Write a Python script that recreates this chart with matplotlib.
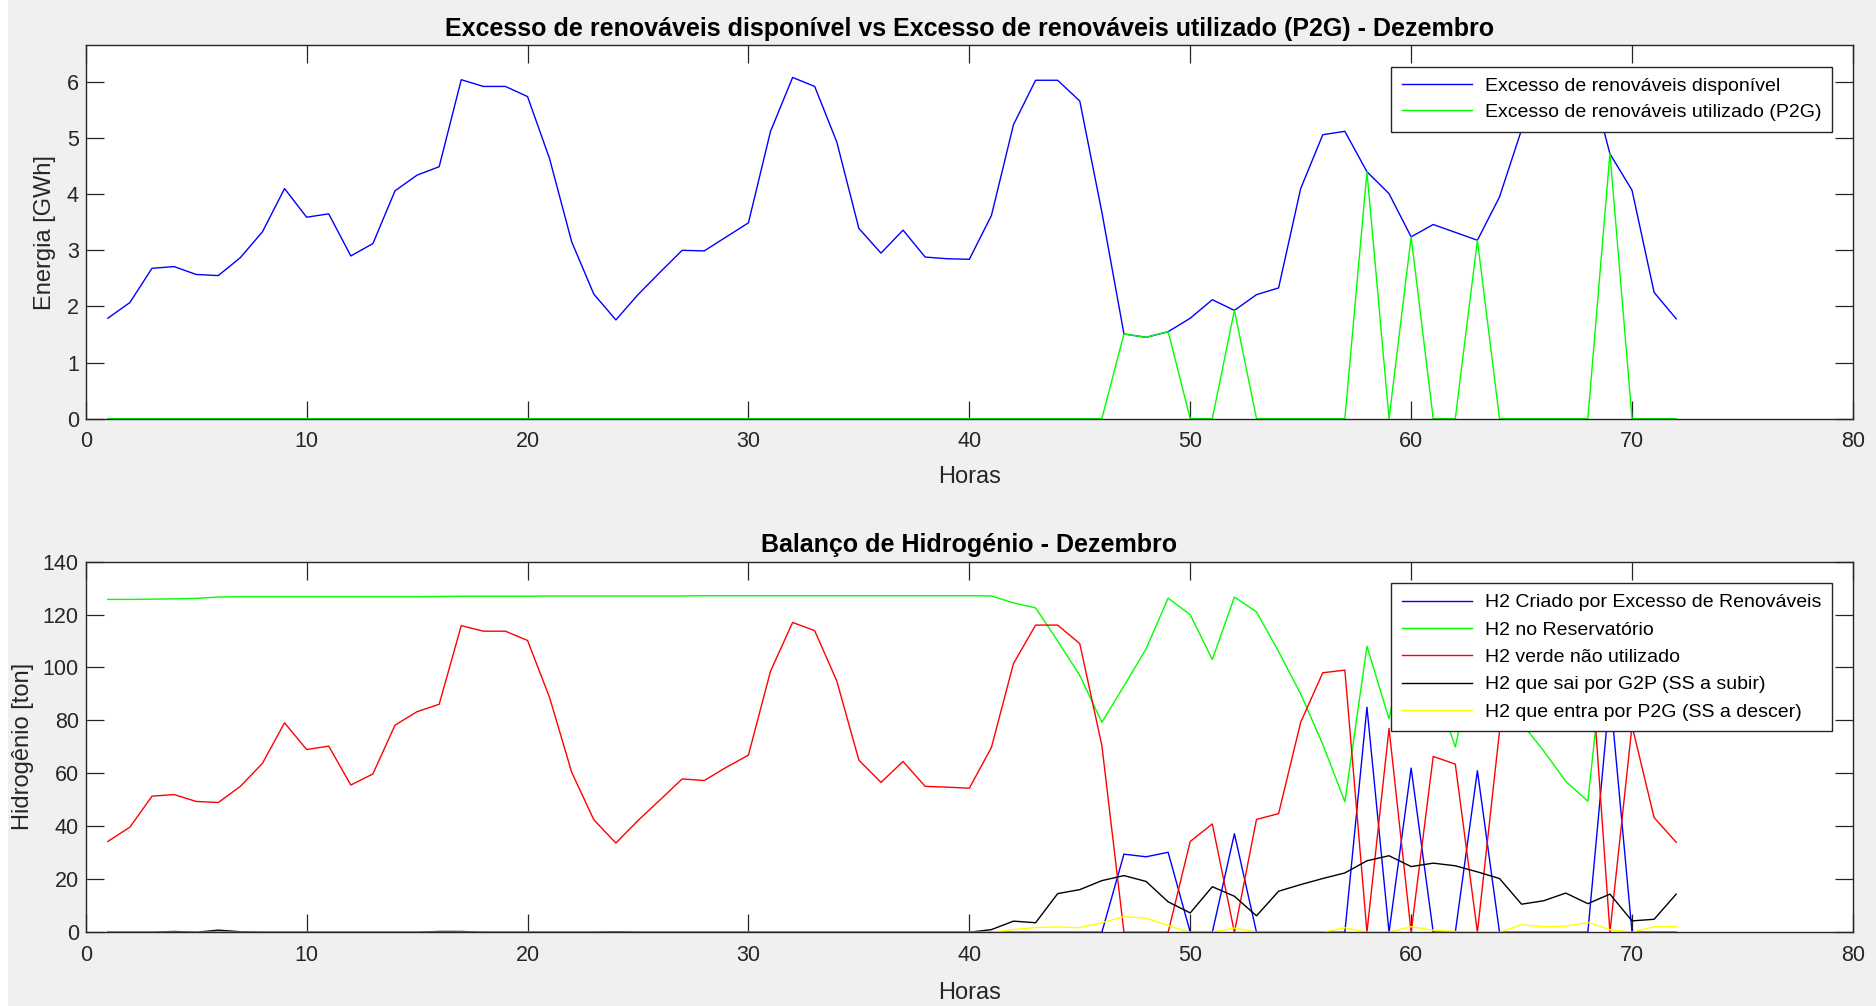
import numpy as np
import matplotlib
matplotlib.use('Agg')
import matplotlib.pyplot as plt
from matplotlib.patches import Rectangle

plt.rcParams['font.family'] = ['Liberation Sans', 'DejaVu Sans']

horas = np.arange(1, 73)

# Excesso de renováveis [GWh]
exc_disponivel = [1.79, 2.07, 2.68, 2.71, 2.57, 2.55, 2.87, 3.33, 4.10, 3.59,
                  3.65, 2.90, 3.12, 4.06, 4.34, 4.49, 6.04, 5.92, 5.92, 5.74,
                  4.63, 3.15, 2.22, 1.76, 2.21, 2.61, 3.00, 2.99, 3.24, 3.49,
                  5.12, 6.08, 5.92, 4.93, 3.39, 2.95, 3.36, 2.88, 2.85, 2.84,
                  3.62, 5.24, 6.03, 6.03, 5.66, 3.68, 1.51, 1.45, 1.55, 1.79,
                  2.12, 1.93, 2.21, 2.33, 4.10, 5.06, 5.12, 4.40, 4.01, 3.24,
                  3.46, 3.32, 3.18, 3.95, 5.15, 5.90, 6.20, 6.22, 4.72, 4.07,
                  2.25, 1.78]
exc_utilizado = [0, 0, 0, 0, 0, 0, 0, 0, 0, 0,
                 0, 0, 0, 0, 0, 0, 0, 0, 0, 0,
                 0, 0, 0, 0, 0, 0, 0, 0, 0, 0,
                 0, 0, 0, 0, 0, 0, 0, 0, 0, 0,
                 0, 0, 0, 0, 0, 0, 1.51, 1.45, 1.55, 0,
                 0, 1.93, 0, 0, 0, 0, 0, 4.40, 0, 3.24,
                 0, 0, 3.18, 0, 0, 0, 0, 0, 4.73, 0,
                 0, 0]

# Balanço de hidrogénio [ton]
h2_criado = [0, 0, 0, 0, 0, 0, 0, 0, 0, 0,
             0, 0, 0, 0, 0, 0, 0, 0, 0, 0,
             0, 0, 0, 0, 0, 0, 0, 0, 0, 0,
             0, 0, 0, 0, 0, 0, 0, 0, 0, 0,
             0, 0, 0, 0, 0, 0, 29.5, 28.5, 30.2, 0,
             0, 37.2, 0, 0, 0, 0, 0, 85.0, 0, 62.0,
             0, 0, 61.0, 0, 0, 0, 0, 0, 90.8, 0,
             0, 0]
h2_reservatorio = [125.7, 125.7, 125.8, 125.9, 126.1, 126.6, 126.7, 126.7, 126.7, 126.7,
                   126.7, 126.7, 126.7, 126.7, 126.7, 126.8, 126.9, 126.9, 126.9, 126.9,
                   127.0, 127.0, 127.0, 127.0, 127.0, 127.0, 127.0, 127.1, 127.1, 127.1,
                   127.1, 127.1, 127.1, 127.1, 127.1, 127.1, 127.1, 127.1, 127.1, 127.1,
                   127.0, 124.4, 122.5, 110.0, 97.0, 79.3, 93.0, 107.0, 126.2, 119.9,
                   103.0, 126.6, 121.0, 106.0, 90.0, 71.0, 49.3, 108.0, 80.6, 119.6,
                   94.4, 70.0, 107.6, 87.3, 79.0, 68.5, 57.0, 49.5, 127.0, 123.4,
                   121.0, 109.0]
h2_nao_utilizado = [34.3, 39.7, 51.4, 52.0, 49.4, 49.0, 55.1, 63.8, 79.1, 69.0,
                    70.3, 55.6, 59.8, 78.2, 83.3, 86.1, 115.8, 113.7, 113.7, 110.2,
                    88.6, 60.4, 42.5, 33.7, 42.2, 50.0, 57.9, 57.3, 62.3, 66.9,
                    98.6, 117.0, 113.9, 94.9, 65.0, 56.6, 64.5, 55.1, 54.8, 54.4,
                    69.8, 101.5, 116.0, 116.0, 109.0, 70.5, 0, 0, 0, 34.3,
                    40.9, 0, 42.6, 44.8, 79.3, 98.0, 99.0, 0, 77.0, 0,
                    66.4, 63.5, 0, 75.8, 99.0, 113.0, 119.0, 119.5, 0, 78.0,
                    43.3, 34.0]
h2_g2p = [0, 0, 0, 0.3, 0, 0.8, 0.2, 0, 0, 0,
          0, 0, 0, 0, 0, 0.3, 0.3, 0, 0, 0,
          0, 0, 0, 0.2, 0, 0, 0, 0, 0, 0,
          0, 0, 0, 0, 0, 0, 0, 0, 0, 0,
          1.0, 4.2, 3.6, 14.6, 16.1, 19.5, 21.4, 19.2, 11.5, 7.3,
          17.2, 13.6, 6.2, 15.5, 18.0, 20.3, 22.4, 27.0, 28.9, 24.8,
          26.1, 25.1, 22.8, 20.3, 10.6, 11.9, 14.8, 10.8, 14.4, 4.3,
          4.9, 14.4]
h2_p2g = [0, 0, 0, 0, 0, 0, 0, 0, 0, 0,
          0, 0, 0, 0, 0, 0, 0, 0, 0, 0,
          0, 0, 0, 0, 0, 0, 0, 0, 0, 0,
          0, 0, 0, 0, 0, 0, 0, 0, 0, 0,
          0, 1.0, 1.8, 2.0, 1.7, 3.6, 5.9, 5.3, 2.5, 0,
          0, 1.6, 0, 0, 0, 0, 1.7, 0, 0, 2.1,
          0.8, 0.3, 0, 0, 2.8, 2.1, 2.3, 3.7, 1.0, 0,
          2.1, 2.1]

cinza = '#262626'

fig = plt.figure(figsize=(18.76, 10.06), dpi=100, facecolor='#f0f0f0')
# faixa branca na margem esquerda (captura de ecrã)
fig.patches.append(Rectangle((0, 0), 8 / 1876, 1, transform=fig.transFigure,
                             facecolor='white', edgecolor='none'))
ax1 = fig.add_axes([0.0457, 0.5838, 0.9420, 0.3710])
ax2 = fig.add_axes([0.0457, 0.0733, 0.9420, 0.3685])


def estilo(ax, ymax, yticks):
    ax.set_xlim(0, 80)
    ax.set_ylim(0, ymax)
    ax.set_xticks(range(0, 81, 10))
    ax.set_yticks(yticks)
    ax.tick_params(direction='in', length=12.7, width=0.9, colors=cinza,
                   labelsize=15.5, top=True, right=True)
    ax.tick_params(axis='x', pad=9)
    ax.tick_params(axis='y', pad=5)
    for s in ax.spines.values():
        s.set_color(cinza)
        s.set_linewidth(1.0)


def legenda(ax, ytop, espaco):
    leg = ax.legend(loc='upper right', bbox_to_anchor=(0.988, ytop), borderaxespad=0,
                    fontsize=14, fancybox=False, framealpha=1, edgecolor=cinza,
                    handlelength=3.6, handletextpad=0.65, labelspacing=espaco,
                    borderpad=0.55)
    leg.get_frame().set_linewidth(1.0)
    return leg


# Painel 1
ax1.plot(horas, exc_disponivel, color='#0000ff', lw=1.0, label='Excesso de renováveis disponível')
ax1.plot(horas, exc_utilizado, color='#00ff00', lw=1.0, label='Excesso de renováveis utilizado (P2G)')
estilo(ax1, 6.65, range(0, 7))
ax1.set_xlabel('Horas', fontsize=17, color=cinza, labelpad=10)
ax1.set_ylabel('Energia [GWh]', fontsize=17, color=cinza, labelpad=8)
ax1.set_title('Excesso de renováveis disponível vs Excesso de renováveis utilizado (P2G) - Dezembro',
              fontsize=18, fontweight='bold', pad=7)
legenda(ax1, 0.943, 0.42)

# Painel 2
ax2.plot(horas, h2_criado, color='#0000ff', lw=1.0, label='H2 Criado por Excesso de Renováveis')
ax2.plot(horas, h2_reservatorio, color='#00ff00', lw=1.0, label='H2 no Reservatório')
ax2.plot(horas, h2_nao_utilizado, color='#ff0000', lw=1.0, label='H2 verde não utilizado')
ax2.plot(horas, h2_g2p, color='#000000', lw=1.0, label='H2 que sai por G2P (SS a subir)')
ax2.plot(horas, h2_p2g, color='#ffff00', lw=1.0, label='H2 que entra por P2G (SS a descer)')
estilo(ax2, 140, range(0, 141, 20))
ax2.set_xlabel('Horas', fontsize=17, color=cinza, labelpad=11.5)
ax2.set_ylabel('Hidrogênio [ton]', fontsize=17, color=cinza, labelpad=6)
ax2.set_title('Balanço de Hidrogénio - Dezembro', fontsize=18, fontweight='bold', pad=7)
legenda(ax2, 0.942, 0.5)

fig.savefig('out.png', dpi=100, facecolor=fig.get_facecolor())
